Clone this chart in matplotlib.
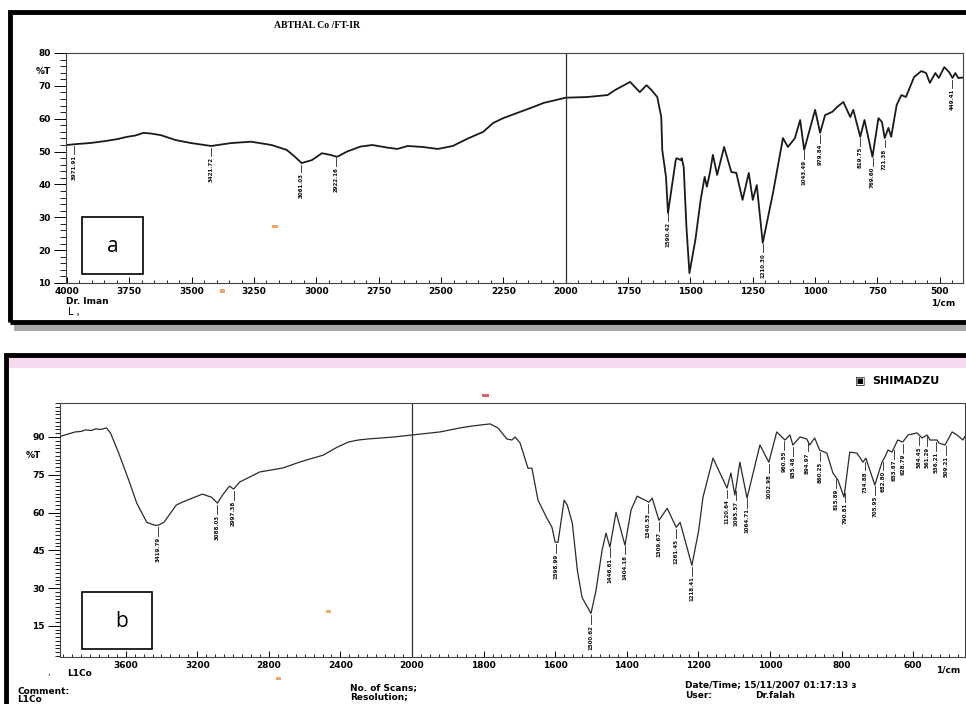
import numpy as np
import matplotlib
matplotlib.use("Agg")
from matplotlib import pyplot as plt
from matplotlib.patches import Rectangle
from matplotlib.ticker import FixedLocator, MultipleLocator

plt.rcParams['font.family'] = ['DejaVu Sans']

# ---- spectrum a (ABTHAL Co / FT-IR) ----
a_wn = [4000, 3960, 3907, 3846, 3798, 3758, 3725, 3693, 3665, 3624, 3564, 3503,
        3422, 3341, 3261, 3180, 3119, 3087, 3059, 3018, 2978, 2945, 2917, 2877,
        2824, 2776, 2715, 2675, 2634, 2574, 2513, 2453, 2392, 2331, 2291, 2250,
        2129, 2089, 2000, 1914, 1832, 1803, 1742, 1703, 1676, 1656, 1633, 1617,
        1613, 1598, 1590, 1559, 1555, 1539, 1535, 1527, 1516, 1504, 1480, 1459,
        1443, 1434, 1422, 1410, 1393, 1365, 1336, 1316, 1291, 1266, 1250, 1234,
        1210, 1169, 1129, 1109, 1081, 1060, 1044, 1000, 980, 960, 931, 911, 887,
        859, 847, 819, 802, 770, 746, 732, 721, 706, 695, 673, 654, 636, 603,
        574, 555, 540, 518, 504, 482, 463, 449, 438, 426, 410]
a_T = [52.0, 52.3, 52.6, 53.2, 53.8, 54.5, 54.9, 55.7, 55.5, 55.0, 53.5, 52.6,
       51.7, 52.6, 53.0, 52.0, 50.5, 48.5, 46.5, 47.4, 49.5, 49.0, 48.4, 50.0,
       51.5, 52.0, 51.2, 50.8, 51.7, 51.4, 50.8, 51.7, 54.0, 56.0, 58.7, 60.2,
       63.6, 64.8, 66.4, 66.6, 67.2, 68.7, 71.2, 68.1, 70.2, 68.7, 66.6, 60.5,
       50.5, 42.3, 31.3, 47.4, 48.0, 47.4, 48.0, 45.3, 27.0, 13.0, 23.2, 35.3,
       42.3, 39.3, 43.5, 49.0, 42.9, 51.4, 43.8, 43.5, 35.3, 43.5, 35.3, 39.8,
       22.2, 37.4, 54.1, 51.4, 54.1, 59.6, 50.5, 62.7, 55.7, 61.1, 62.1, 63.6,
       65.1, 60.5, 62.7, 54.5, 59.6, 48.4, 60.2, 59.0, 54.1, 57.2, 54.5, 64.2,
       67.2, 66.6, 72.7, 74.5, 73.9, 70.9, 73.9, 72.4, 75.7, 74.2, 72.4, 73.9,
       72.4, 72.5]
a_peaks = [3971.91, 3421.72, 3061.03, 2922.16, 1590.42, 1210.30, 1043.49,
           979.84, 819.75, 769.60, 721.38, 449.41]

# ---- spectrum b (L1Co, Shimadzu) ----
b_wn = [3975, 3930, 3882, 3850, 3825, 3790, 3769, 3740, 3707, 3685, 3639, 3583,
        3538, 3482, 3440, 3420, 3386, 3318, 3284, 3228, 3172, 3121, 3087, 3059,
        3020, 2997, 2963, 2851, 2721, 2625, 2496, 2417, 2355, 2300, 2248, 2100,
        2000, 1922, 1866, 1830, 1782, 1760, 1735, 1721, 1712, 1698, 1676, 1665,
        1648, 1623, 1609, 1600, 1592, 1575, 1566, 1552, 1538, 1525, 1500, 1486,
        1469, 1458, 1447, 1430, 1405, 1388, 1371, 1338, 1329, 1310, 1287, 1262,
        1251, 1218, 1199, 1187, 1159, 1120, 1109, 1098, 1084, 1064, 1028, 1003,
        981, 958, 944, 936, 916, 897, 889, 875, 861, 841, 824, 810, 793, 777,
        757, 740, 732, 707, 687, 679, 670, 659, 643, 629, 614, 589, 575, 561,
        553, 533, 528, 511, 491, 477, 461, 452]
b_T = [90.0, 91.0, 92.0, 92.2, 92.8, 92.6, 93.2, 93.0, 93.6, 91.6, 83.6, 72.9,
       63.7, 56.1, 55.0, 54.9, 56.1, 62.9, 64.1, 65.7, 67.3, 66.1, 63.7, 66.9,
       70.5, 69.3, 72.1, 76.1, 77.7, 80.1, 82.8, 86.0, 88.0, 88.8, 89.2, 90.0,
       90.8, 92.0, 93.6, 94.4, 95.2, 93.6, 89.2, 88.8, 90.0, 87.6, 77.6, 77.6,
       64.9, 57.7, 54.1, 48.2, 48.2, 64.9, 62.9, 55.7, 37.0, 26.3, 19.9, 29.0,
       45.0, 51.8, 46.2, 60.1, 47.0, 61.0, 66.5, 64.1, 65.7, 56.9, 61.7, 54.1,
       56.1, 39.0, 52.9, 66.1, 81.6, 69.7, 75.7, 66.9, 80.0, 65.7, 86.8, 80.0,
       92.0, 88.8, 90.8, 86.8, 90.0, 89.2, 86.8, 89.6, 84.8, 83.6, 75.7, 72.9,
       66.1, 84.0, 83.6, 80.0, 81.6, 70.9, 80.0, 82.0, 84.8, 84.0, 88.8, 88.0,
       90.8, 91.6, 89.6, 90.8, 88.8, 88.8, 87.6, 86.8, 92.0, 90.8, 88.8, 91.0]
b_peaks = [3419.79, 3088.03, 2997.38, 1598.99, 1500.62, 1446.61, 1404.18,
           1340.53, 1309.67, 1261.45, 1218.41, 1120.64, 1095.57, 1064.71,
           1002.98, 960.55, 935.48, 894.97, 860.25, 815.89, 790.81, 734.88,
           705.95, 682.80, 653.87, 628.79, 584.43, 561.29, 536.21, 509.21]

W, H = 966, 704
fig = plt.figure(figsize=(W / 100, H / 100), dpi=100)


def box(x0, y0, x1, y1):
    # pixel box (top-left origin) -> figure fraction rect
    return [x0 / W, 1 - y1 / H, (x1 - x0) / W, (y1 - y0) / H]


def ftext(x, y, s, **kw):
    fig.text(x / W, 1 - y / H, s, **kw)


def speck(x, y, w=6, h=3, c='#e8904a'):
    fig.add_artist(Rectangle((x / W, 1 - y / H), w / W, h / H,
                             transform=fig.transFigure, facecolor=c,
                             edgecolor='none', alpha=0.8))


def peak_labels(ax, wn, T, peaks, gap, length, fs=4):
    xs = np.asarray(wn)[::-1]
    ys = np.asarray(T)[::-1]
    for p in peaks:
        t = np.interp(p, xs, ys)
        ax.plot([p, p], [t - gap, t - gap - length], color='#222', lw=0.6)
        ax.text(p, t - gap - length - 0.3, f"{p:.2f}", rotation=90,
                ha='center', va='top', fontsize=fs, fontweight='bold', color='#111')


tick_font = dict(fontsize=6.5, fontweight='bold')

# ---- panel frames ----
fig.add_artist(Rectangle((14 / W, 1 - 331 / H), 1, 8 / H, transform=fig.transFigure,
                         facecolor='#a8a8a8', edgecolor='none'))
fig.add_artist(Rectangle((10 / W, 1 - 322 / H), 1, 310 / H, transform=fig.transFigure,
                         fill=False, edgecolor='black', lw=3.5))
fig.add_artist(Rectangle((8 / W, 1 - 368 / H), 1, 10 / H, transform=fig.transFigure,
                         facecolor='#f4c9ea', edgecolor='none', alpha=0.7))
fig.add_artist(Rectangle((6 / W, -0.05), 1, 1.05 - 355 / H, transform=fig.transFigure,
                         fill=False, edgecolor='black', lw=3.5))

# scan specks
speck(272, 228)
speck(220, 293, 5, 4)
speck(326, 613, 5, 3, '#e0a040')
speck(276, 680, 5, 3)
speck(482, 397, 7, 3, '#d04040')

# ---- top panel ----
ax1 = fig.add_axes(box(66, 53, 963, 283))
ax1.plot(a_wn, a_T, color='#1a1a1a', lw=1.3)
ax1.axvline(2000, color='#333', lw=0.9)
ax1.set_xlim(4004, 407)
ax1.set_ylim(10, 80)
ax1.set_xticks(np.arange(4000, 499, -250))
ax1.set_xticklabels([str(v) for v in range(4000, 499, -250)], **tick_font)
ax1.xaxis.set_minor_locator(MultipleLocator(50))
ax1.set_yticks(np.arange(10, 81, 10))
ax1.set_yticklabels([str(v) for v in range(10, 81, 10)], **tick_font)
ax1.yaxis.set_minor_locator(MultipleLocator(2))
ax1.tick_params(axis='x', which='major', direction='in', length=4, pad=3, width=0.7)
ax1.tick_params(axis='x', which='minor', direction='in', length=2.5, width=0.6)
ax1.tick_params(axis='y', which='major', direction='out', length=9, pad=2, width=0.7)
ax1.tick_params(axis='y', which='minor', direction='out', length=4, width=0.6)
for s in ax1.spines.values():
    s.set_linewidth(0.8)
    s.set_color('#444')
peak_labels(ax1, a_wn, a_T, a_peaks, gap=0.6, length=2.4)
ax1.add_patch(Rectangle((0.018, 0.04), 0.068, 0.245, transform=ax1.transAxes,
                        fill=False, edgecolor='black', lw=1.2))
ax1.text(0.052, 0.16, 'a', transform=ax1.transAxes, fontsize=15,
         family='Open Sans', ha='center', va='center')

ftext(317, 25, 'ABTHAL Co /FT-IR', fontsize=7, fontweight='bold',
      family='Liberation Serif', ha='center', va='center')
ftext(36, 71, '%T', fontsize=6.5, fontweight='bold', va='center')
ftext(66, 302, 'Dr. Iman', fontsize=6.5, fontweight='bold', va='center')
ftext(68, 312, 'L ,', fontsize=7, va='center')
ftext(931, 303, '1/cm', fontsize=6.5, fontweight='bold', va='center')

# ---- bottom panel (two-scale wavenumber axis) ----
def fwd(x):
    x = np.asarray(x, dtype=float)
    return np.where(x > 2000, 2000 + (x - 2000) / 2, x)


def inv(p):
    p = np.asarray(p, dtype=float)
    return np.where(p > 2000, 2000 + 2 * (p - 2000), p)


ax2 = fig.add_axes(box(60, 403, 965, 657))
ax2.set_xscale('function', functions=(fwd, inv))
ax2.plot(b_wn, b_T, color='#2a2a2a', lw=0.9)
ax2.axvline(2000, color='#333', lw=0.9)
ax2.set_xlim(3967, 455)
ax2.set_ylim(2.6, 103.5)
b_major = [3600, 3200, 2800, 2400, 2000, 1800, 1600, 1400, 1200, 1000, 800, 600]
ax2.xaxis.set_major_locator(FixedLocator(b_major))
ax2.set_xticklabels([str(v) for v in b_major], **tick_font)
b_minor = list(range(3950, 2000, -50)) + list(range(1975, 450, -25))
ax2.xaxis.set_minor_locator(FixedLocator(b_minor))
ax2.set_yticks(np.arange(15, 91, 15))
ax2.set_yticklabels([str(v) for v in range(15, 91, 15)], **tick_font)
ax2.yaxis.set_minor_locator(MultipleLocator(1.5))
ax2.tick_params(axis='x', which='major', direction='in', length=4, pad=3, width=0.7)
ax2.tick_params(axis='x', which='minor', direction='in', length=2.5, width=0.6)
ax2.tick_params(axis='y', which='major', direction='out', length=9, pad=2, width=0.7)
ax2.tick_params(axis='y', which='minor', direction='out', length=3.5, width=0.6)
for s in ax2.spines.values():
    s.set_linewidth(0.8)
    s.set_color('#444')
peak_labels(ax2, b_wn, b_T, b_peaks, gap=0.8, length=3.5)
ax2.add_patch(Rectangle((0.0245, 0.03), 0.077, 0.225, transform=ax2.transAxes,
                        fill=False, edgecolor='black', lw=1.2))
ax2.text(0.068, 0.14, 'b', transform=ax2.transAxes, fontsize=15,
         family='Open Sans', ha='center', va='center')

ftext(26, 456, '%T', fontsize=6.5, fontweight='bold', va='center')
ftext(855, 381, '\u25a3', fontsize=8, va='center')
ftext(872, 381, 'SHIMADZU', fontsize=8, fontweight='bold', va='center')
ftext(47, 673, ',', fontsize=6, va='center')
ftext(67, 673, 'L1Co', fontsize=6.5, fontweight='bold', va='center')
ftext(936, 670, '1/cm', fontsize=6.5, fontweight='bold', va='center')
ftext(17, 691, 'Comment:', fontsize=6.5, fontweight='bold', va='center')
ftext(17, 700, 'L1Co', fontsize=6.5, fontweight='bold', va='center')
ftext(350, 688, 'No. of Scans;', fontsize=6.5, fontweight='bold', va='center')
ftext(350, 697, 'Resolution;', fontsize=6.5, fontweight='bold', va='center')
ftext(685, 685, 'Date/Time; 15/11/2007 01:17:13 \u025c', fontsize=6.5,
      fontweight='bold', va='center')
ftext(685, 695, 'User:', fontsize=6.5, fontweight='bold', va='center')
ftext(755, 695, 'Dr.falah', fontsize=6.5, fontweight='bold', va='center')

fig.savefig('out.png', dpi=100)
